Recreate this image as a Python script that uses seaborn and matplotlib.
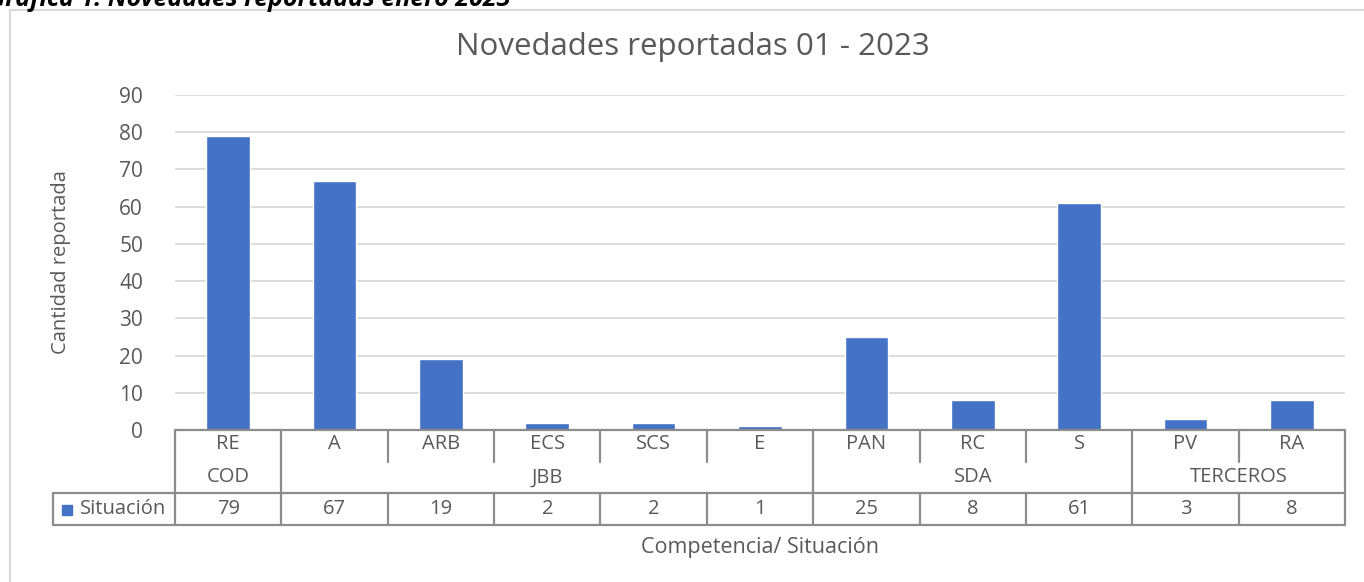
import matplotlib
matplotlib.use("Agg")
import matplotlib.pyplot as plt
from matplotlib.patches import Rectangle
from matplotlib.lines import Line2D
import seaborn as sns
import pandas as pd

# data
situaciones = ["RE", "A", "ARB", "ECS", "SCS", "E", "PAN", "RC", "S", "PV", "RA"]
cantidades = [79, 67, 19, 2, 2, 1, 25, 8, 61, 3, 8]
competencias = ["COD", "JBB", "SDA", "TERCEROS"]
grupo_tamano = [1, 5, 3, 2]
y_ticks = [0, 10, 20, 30, 40, 50, 60, 70, 80, 90]

BAR_COLOR = "#4472C4"
TEXT_COLOR = "#595959"
LINE_COLOR = "#8c8c8c"
GRID_COLOR = "#d9d9d9"

W, H = 1364, 582

sns.set_style("white")
plt.rcParams["font.family"] = ["Open Sans", "DejaVu Sans"]

fig = plt.figure(figsize=(W / 100, H / 100), dpi=100)


def fx(x):
    return x / W


def fy(y):
    return 1 - y / H


# chart frame (Excel style)
fig.patches.append(Rectangle((fx(10), fy(H + 20)), fx(W + 20), fy(10) - fy(H + 20),
                             transform=fig.transFigure, fill=False,
                             edgecolor=GRID_COLOR, lw=1.5))

# caption, cut off at the top as in the source image
fig.text(fx(-12), fy(6), "Gráfica 1. Novedades reportadas enero 2023", fontsize=18,
         fontweight="bold", fontstyle="italic", color="black", va="baseline", ha="left")

left, right, top, bottom = 175, 1345, 95, 430
ax = fig.add_axes([fx(left), fy(bottom), fx(right - left), fy(top) - fy(bottom)])

df = pd.DataFrame({"situacion": situaciones, "cantidad": cantidades})
sns.barplot(data=df, x="situacion", y="cantidad", color=BAR_COLOR, width=0.41,
            saturation=1, ax=ax, zorder=3)

ax.set_xlim(-0.5, len(situaciones) - 0.5)
ax.set_ylim(0, 90)
ax.set_yticks(y_ticks)
ax.yaxis.grid(True, color=GRID_COLOR, lw=1.3, zorder=0)
ax.tick_params(axis="y", length=0, labelsize=15, labelcolor=TEXT_COLOR, pad=23)
ax.set_xticks([])
ax.set_xlabel("")
ax.set_ylabel("")
for side in ["top", "right", "left", "bottom"]:
    ax.spines[side].set_visible(False)

fig.text(fx(61), fy(262), "Cantidad reportada", fontsize=14.5, color=TEXT_COLOR,
         rotation=90, ha="center", va="center")

fig.text(0.5 * (fx(455) + fx(930)), fy(47), "Novedades reportadas 01 - 2023",
         fontsize=22.5, color=TEXT_COLOR, ha="center", va="center")

# data table below the axis
cell = (right - left) / len(situaciones)
r0, r1, r2, r3 = 430, 462, 493, 525
leg_left = 53
FS = 14.5


def hline(x0, x1, y):
    fig.add_artist(Line2D([fx(x0), fx(x1)], [fy(y), fy(y)], color=LINE_COLOR, lw=1.6))


def vline(x, y0, y1):
    fig.add_artist(Line2D([fx(x), fx(x)], [fy(y0), fy(y1)], color=LINE_COLOR, lw=1.6))


hline(left, right, r0)
hline(leg_left, right, r2)
hline(leg_left, right, r3)
vline(leg_left, r2, r3)

group_edges = [0]
for n in grupo_tamano:
    group_edges.append(group_edges[-1] + n)

for i in range(len(situaciones) + 1):
    x = left + i * cell
    if i in group_edges:
        vline(x, r0, r3)
    else:
        vline(x, r0, r1)
        vline(x, r2, r3)

for i, (s, v) in enumerate(zip(situaciones, cantidades)):
    xc = left + (i + 0.5) * cell
    fig.text(fx(xc), fy((r0 + r1) / 2 - 2), s, fontsize=FS, color=TEXT_COLOR,
             ha="center", va="center")
    fig.text(fx(xc), fy((r2 + r3) / 2), str(v), fontsize=FS, color=TEXT_COLOR,
             ha="center", va="center")

for g, a, b in zip(competencias, group_edges[:-1], group_edges[1:]):
    xc = left + (a + b) / 2 * cell
    fig.text(fx(xc), fy((r1 + r2) / 2), g, fontsize=FS, color=TEXT_COLOR,
             ha="center", va="center")

# legend key in the table
fig.patches.append(Rectangle((fx(62), fy(515)), fx(10), fy(505) - fy(515),
                             transform=fig.transFigure, color=BAR_COLOR))
fig.text(fx(80), fy((r2 + r3) / 2), "Situación", fontsize=FS, color=TEXT_COLOR,
         ha="left", va="center")

fig.text(fx(760), fy(547), "Competencia/ Situación", fontsize=15.5, color=TEXT_COLOR,
         ha="center", va="center")

fig.savefig("out.png", dpi=100)
